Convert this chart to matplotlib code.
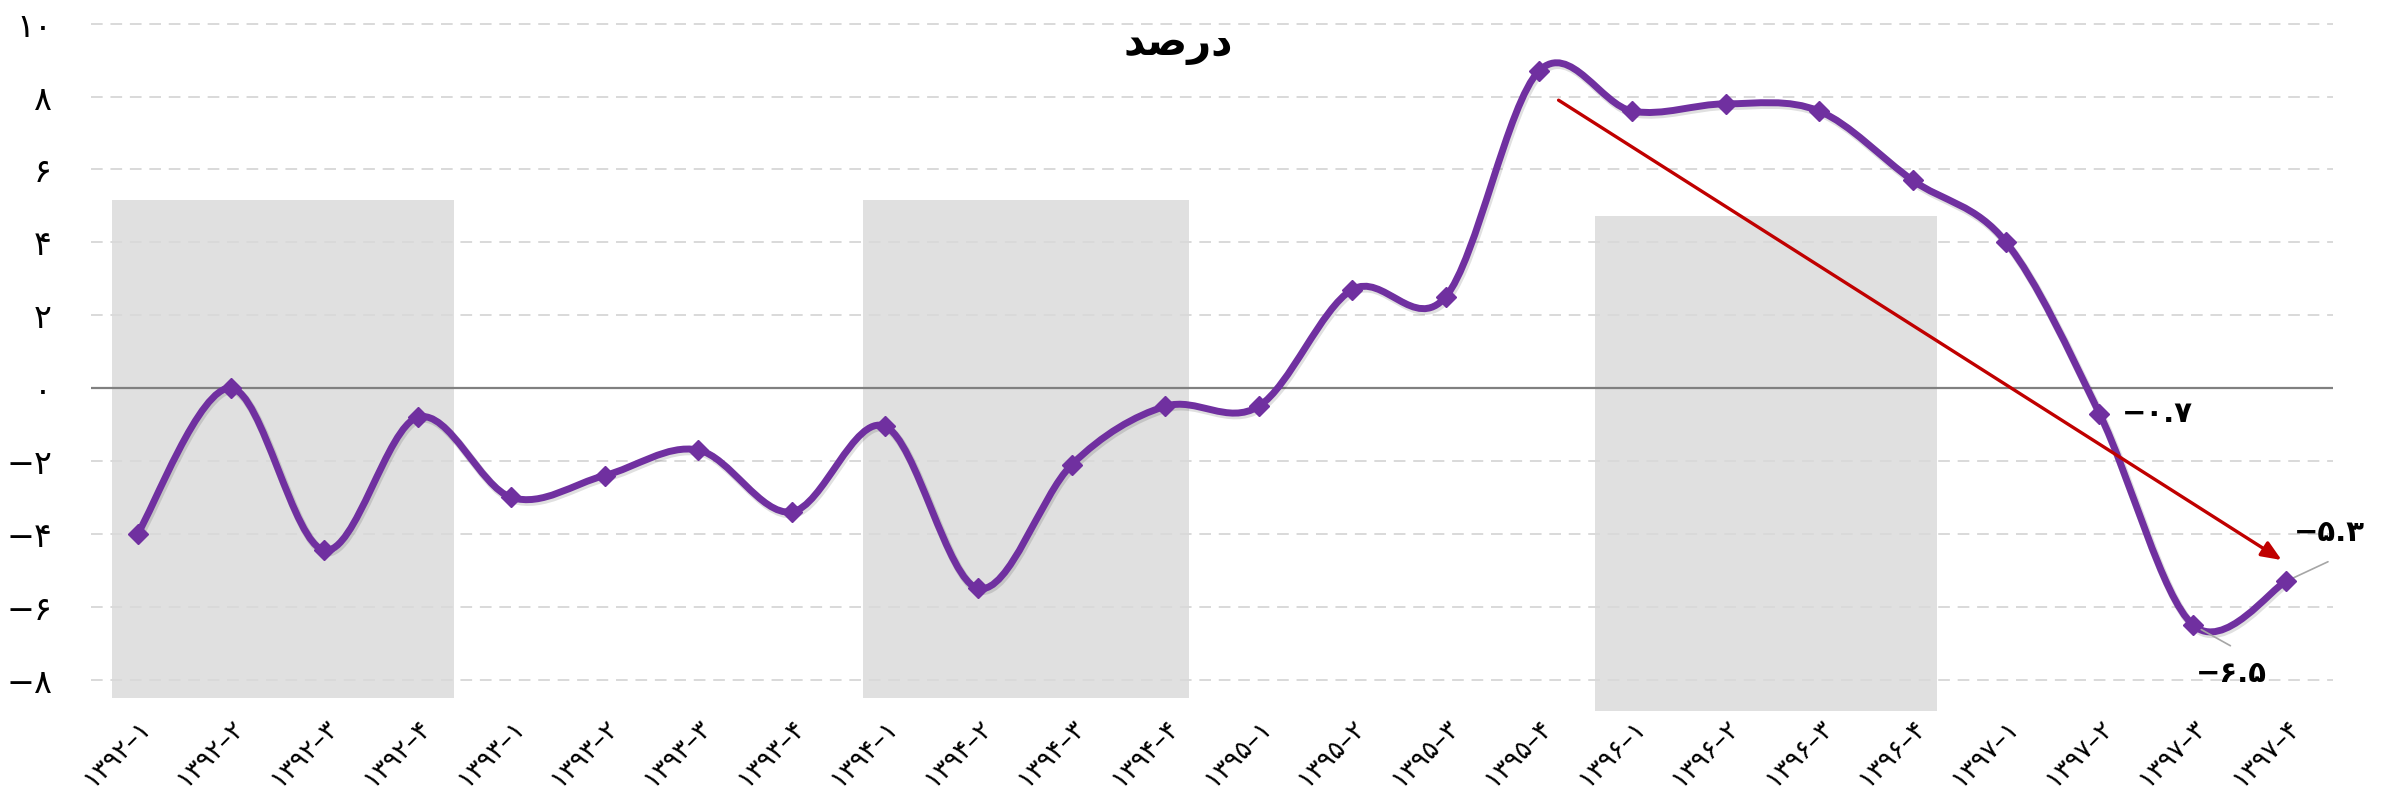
import matplotlib
matplotlib.use("Agg")
import matplotlib.pyplot as plt
import matplotlib.patches as patches
import matplotlib.patheffects as pe
from matplotlib.path import Path
from matplotlib.ticker import FuncFormatter, MultipleLocator
import numpy as np

plt.rcParams['font.family'] = ['DejaVu Sans']

# quarterly growth, percent
labels = ['۱۳۹۲–۱', '۱۳۹۲–۲', '۱۳۹۲–۳', '۱۳۹۲–۴',
          '۱۳۹۳–۱', '۱۳۹۳–۲', '۱۳۹۳–۳', '۱۳۹۳–۴',
          '۱۳۹۴–۱', '۱۳۹۴–۲', '۱۳۹۴–۳', '۱۳۹۴–۴',
          '۱۳۹۵–۱', '۱۳۹۵–۲', '۱۳۹۵–۳', '۱۳۹۵–۴',
          '۱۳۹۶–۱', '۱۳۹۶–۲', '۱۳۹۶–۳', '۱۳۹۶–۴',
          '۱۳۹۷–۱', '۱۳۹۷–۲', '۱۳۹۷–۳', '۱۳۹۷–۴']
values = [-4.0, 0.0, -4.45, -0.8,
          -3.0, -2.4, -1.7, -3.4,
          -1.05, -5.5, -2.1, -0.5,
          -0.5, 2.7, 2.5, 8.7,
          7.6, 7.8, 7.6, 5.7,
          4.0, -0.7, -6.5, -5.3]

# grey shaded periods (x in category units, y in percent)
shade_x0 = [-0.27, 7.76, 15.6]
shade_x1 = [3.39, 11.25, 19.26]
shade_y0 = [-8.5, -8.5, -8.87]
shade_y1 = [5.15, 5.15, 4.72]

# trend arrow
arrow_from = (15.21, 7.9)
arrow_to = (22.95, -4.72)

title = 'درصد'
# presentation forms, visual order (matplotlib does no shaping / bidi)
title_shaped = '\uFEAA\uFEBB\uFEAD\uFEA9'

purple = '#7030A0'
fa_digits = str.maketrans('0123456789', '۰۱۲۳۴۵۶۷۸۹')


def to_fa(v, fmt='{:g}'):
    s = fmt.format(abs(v)).translate(fa_digits)
    return ('−' + s) if v < 0 else s


def smooth_path(xs, ys):
    # cubic bezier through all points, like a spreadsheet "smoothed line"
    pts = np.column_stack([xs, ys]).astype(float)
    n = len(pts)
    verts = [pts[0]]
    codes = [Path.MOVETO]
    for i in range(n - 1):
        p0 = pts[max(i - 1, 0)]
        p1 = pts[i]
        p2 = pts[i + 1]
        p3 = pts[min(i + 2, n - 1)]
        c1 = p1 + (p2 - p0) / 6.0
        c2 = p2 - (p3 - p1) / 6.0
        verts += [c1, c2, p2]
        codes += [Path.CURVE4] * 3
    return Path(verts, codes)


x = np.arange(len(values))

fig = plt.figure(figsize=(23.86, 7.96), dpi=100)
ax = fig.add_axes([0.0381, 0.1005, 0.9397, 0.8835])

for x0, x1, y0, y1 in zip(shade_x0, shade_x1, shade_y0, shade_y1):
    ax.add_patch(patches.Rectangle((x0, y0), x1 - x0, y1 - y0,
                                   facecolor='#E0E0E0', edgecolor='none', zorder=0))

ax.yaxis.set_major_locator(MultipleLocator(2))
ax.grid(axis='y', color='#D9D9D9', linestyle=(0, (6, 4)), linewidth=1.4, zorder=0.5)
ax.set_axisbelow(True)
ax.axhline(0, color='#808080', linewidth=1.6, zorder=1)

curve = patches.PathPatch(smooth_path(x, values), facecolor='none', edgecolor=purple,
                          linewidth=5, capstyle='round', joinstyle='round', zorder=3,
                          path_effects=[pe.SimpleLineShadow(offset=(1, -1.5), alpha=0.12,
                                                            linewidth=6),
                                        pe.Normal()])
ax.add_patch(curve)
ax.plot(x, values, linestyle='none', marker='D', markersize=10, color=purple, zorder=4)

ax.annotate('', xy=arrow_to, xytext=arrow_from,
            arrowprops=dict(arrowstyle='-|>,head_length=1.2,head_width=0.5',
                            color='#C00000', linewidth=2.4, shrinkA=0, shrinkB=0),
            zorder=5)

# value labels on the last points
lab_font = dict(fontsize=21, fontweight='bold', color='black')
ax.annotate(to_fa(values[21], '{:.1f}'), xy=(21, values[21]), xytext=(16, 0),
            textcoords='offset points', ha='left', va='center', **lab_font)
ax.annotate('', xy=(22, values[22]), xytext=(27, -15), textcoords='offset points',
            arrowprops=dict(arrowstyle='-', color='#A6A6A6', linewidth=1.2,
                            shrinkA=0, shrinkB=2))
ax.annotate(to_fa(values[22], '{:.1f}'), xy=(22, values[22]), xytext=(28, -35),
            textcoords='offset points', ha='center', va='center', **lab_font)
ax.annotate('', xy=(23, values[23]), xytext=(30, 14), textcoords='offset points',
            arrowprops=dict(arrowstyle='-', color='#A6A6A6', linewidth=1.2,
                            shrinkA=0, shrinkB=2))
ax.annotate(to_fa(values[23], '{:.1f}'), xy=(23, values[23]), xytext=(31, 35),
            textcoords='offset points', ha='center', va='center', **lab_font)

ax.set_xlim(-0.5, 23.5)
ax.set_ylim(-9.0, 10.3)
ax.set_yticks(np.arange(-8, 11, 2))
ax.yaxis.set_major_formatter(FuncFormatter(lambda v, p: to_fa(v, '{:.0f}')))
ax.set_xticks(x)
ax.set_xticklabels(labels, rotation=45, ha='right', va='top', rotation_mode='anchor',
                   fontsize=19)
ax.tick_params(axis='y', length=0, pad=28, labelsize=24)
ax.tick_params(axis='x', length=0, pad=-1)
for s in ax.spines.values():
    s.set_visible(False)

ax.text(0.485, 0.985, title_shaped, transform=ax.transAxes, ha='center', va='top',
        fontsize=30, fontweight='bold')

fig.savefig('out.png', dpi=100)
